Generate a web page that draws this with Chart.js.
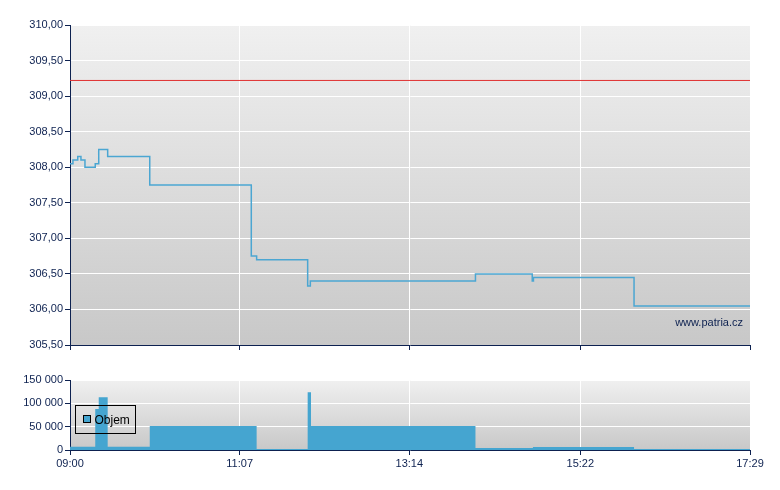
<!DOCTYPE html>
<html>
<head>
<meta charset="utf-8">
<script src="https://cdn.jsdelivr.net/npm/chart.js@4.4.1/dist/chart.umd.min.js"></script>
<style>
  html, body { margin: 0; padding: 0; background: #fff; }
  #wrap { position: relative; width: 780px; height: 490px; }
  #priceBox { position: absolute; left: 0; top: 0; width: 780px; height: 360px; }
  #volBox { position: absolute; left: 0; top: 360px; width: 780px; height: 130px; }
</style>
</head>
<body>
<div id="wrap">
  <div id="priceBox"><canvas id="priceChart"></canvas></div>
  <div id="volBox"><canvas id="volChart"></canvas></div>
</div>
<script>
// minutes after 09:00
const timeLabels = ["09:00", "11:07", "13:14", "15:22", "17:29"];

const priceTimes = [0, 2.2, 5.8, 8.2, 11.2, 18.9, 21.5, 28.2, 59.7, 135.7, 139.7, 177.9, 179.9, 303.5, 346.0, 346.9, 422.2, 509];
const priceValues = [308.05, 308.10, 308.15, 308.10, 308.00, 308.05, 308.25, 308.15, 307.75, 306.75, 306.70, 306.33, 306.40, 306.50, 306.40, 306.45, 306.05, 306.05];

const prevClose = 309.22;

const volTimes = [0, 18.9, 21.5, 28.2, 59.7, 139.7, 177.9, 180.4, 303.5, 346.5, 422.2, 509];
const volValues = [7000, 88000, 113000, 7000, 51500, 2000, 124000, 51500, 4300, 6500, 2000, 2000];

const NAVY = "#0d2150";
const FONT = { family: "'Liberation Sans', Arial, sans-serif", size: 11 };

const toMinutes = (s) => {
  const [h, m] = s.split(":").map(Number);
  return (h - 9) * 60 + m;
};
const tickMinutes = timeLabels.map(toMinutes);

const fmtMinutes = (v) => {
  const i = tickMinutes.indexOf(v);
  return i >= 0 ? timeLabels[i] : "";
};

const plotBackground = {
  id: "plotBackground",
  beforeDraw(chart) {
    const { ctx, chartArea: a } = chart;
    const g = ctx.createLinearGradient(0, a.top, 0, a.bottom);
    g.addColorStop(0, "#f0f0f0");
    g.addColorStop(1, "#c8c8c8");
    ctx.save();
    ctx.fillStyle = g;
    ctx.fillRect(a.left, a.top, a.right - a.left, a.bottom - a.top);
    ctx.restore();
  },
};

const watermark = {
  id: "watermark",
  afterDatasetsDraw(chart) {
    const { ctx, chartArea: a } = chart;
    ctx.save();
    ctx.font = "11px 'Liberation Sans', Arial, sans-serif";
    ctx.fillStyle = NAVY;
    ctx.textAlign = "right";
    ctx.textBaseline = "middle";
    ctx.fillText("www.patria.cz", a.right - 7, a.bottom - 22);
    ctx.restore();
  },
};

const volLegend = {
  id: "volLegend",
  afterDraw(chart) {
    const { ctx, chartArea: a } = chart;
    const x = a.left + 5.5, y = a.top + 25.5;
    ctx.save();
    ctx.strokeStyle = "#000";
    ctx.lineWidth = 1;
    ctx.strokeRect(x, y, 60, 28);
    ctx.fillStyle = "#45a5d0";
    ctx.fillRect(x + 8, y + 10, 7, 7);
    ctx.strokeRect(x + 8, y + 10, 7, 7);
    ctx.font = "12px 'Liberation Sans', Arial, sans-serif";
    ctx.fillStyle = "#000";
    ctx.textBaseline = "middle";
    ctx.fillText("Objem", x + 19, y + 15);
    ctx.restore();
  },
};

function timeAxis(showLabels, height) {
  return {
    type: "linear",
    min: 0,
    max: tickMinutes[tickMinutes.length - 1],
    afterBuildTicks: (scale) => {
      scale.ticks = tickMinutes.map((v) => ({ value: v }));
    },
    afterFit: (scale) => { scale.height = height; },
    border: { color: NAVY, width: 1 },
    grid: {
      color: (c) => (c.index === 0 ? "rgba(0,0,0,0)" : "#ffffff"),
      tickColor: NAVY,
      tickLength: 5,
      lineWidth: 1,
    },
    ticks: {
      display: showLabels,
      color: NAVY,
      font: FONT,
      padding: 2,
      maxRotation: 0,
      autoSkip: false,
      callback: fmtMinutes,
    },
  };
}

function valueAxis(min, max, step, fmt) {
  return {
    min, max,
    afterFit: (scale) => { scale.width = 70; },
    border: { color: NAVY, width: 1 },
    grid: {
      color: (c) => (c.index === 0 ? "rgba(0,0,0,0)" : "#ffffff"),
      tickColor: NAVY,
      tickLength: 5,
      lineWidth: 1,
    },
    ticks: {
      stepSize: step,
      color: NAVY,
      font: FONT,
      padding: 2,
      callback: fmt,
    },
  };
}

new Chart(document.getElementById("priceChart"), {
  type: "line",
  data: {
    datasets: [
      {
        data: priceTimes.map((t, i) => ({ x: t, y: priceValues[i] })),
        borderColor: "#4ba6d2",
        borderWidth: 1.5,
        stepped: true,
        pointRadius: 0,
        fill: false,
      },
      {
        data: [
          { x: tickMinutes[0], y: prevClose },
          { x: tickMinutes[tickMinutes.length - 1], y: prevClose },
        ],
        borderColor: "#e03030",
        borderWidth: 1,
        pointRadius: 0,
        fill: false,
      },
    ],
  },
  options: {
    responsive: true,
    maintainAspectRatio: false,
    animation: false,
    events: [],
    layout: { padding: { top: 25, right: 30, bottom: 0, left: 0 } },
    plugins: { legend: { display: false }, tooltip: { enabled: false } },
    scales: {
      x: timeAxis(false, 15),
      y: valueAxis(305.5, 310, 0.5, (v) => v.toFixed(2).replace(".", ",")),
    },
  },
  plugins: [plotBackground, watermark],
});

new Chart(document.getElementById("volChart"), {
  type: "line",
  data: {
    datasets: [
      {
        label: "Objem",
        data: volTimes.map((t, i) => ({ x: t, y: volValues[i] })),
        borderWidth: 0,
        borderColor: "rgba(0,0,0,0)",
        backgroundColor: "#45a5d0",
        stepped: true,
        pointRadius: 0,
        fill: "origin",
      },
    ],
  },
  options: {
    responsive: true,
    maintainAspectRatio: false,
    animation: false,
    events: [],
    layout: { padding: { top: 20, right: 30, bottom: 0, left: 0 } },
    plugins: { legend: { display: false }, tooltip: { enabled: false } },
    scales: {
      x: timeAxis(true, 40),
      y: valueAxis(0, 150000, 50000, (v) => String(v).replace(/\B(?=(\d{3})+(?!\d))/g, " ")),
    },
  },
  plugins: [plotBackground, volLegend],
});
</script>
</body>
</html>
